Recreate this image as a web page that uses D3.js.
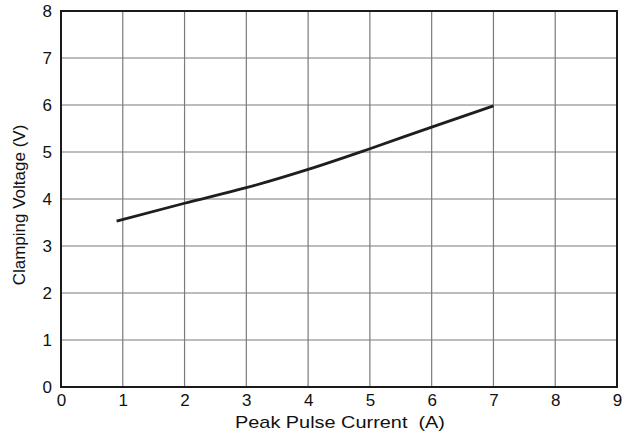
<!DOCTYPE html>
<html>
<head>
<meta charset="utf-8">
<script src="https://cdn.jsdelivr.net/npm/d3@7"></script>
<style>
  body { margin: 0; background: #fff; }
  text { font-family: "Liberation Sans", Arial, sans-serif; fill: #111; }
</style>
</head>
<body>
<div id="chart"></div>
<script>
// curve
const current = [0.9, 2, 3, 4, 5, 6, 7];
const voltage = [3.53, 3.91, 4.24, 4.63, 5.07, 5.53, 5.98];
const xTicks = [0, 1, 2, 3, 4, 5, 6, 7, 8, 9];
const yTicks = [0, 1, 2, 3, 4, 5, 6, 7, 8];

const W = 637, H = 435;
const margin = {top: 11, right: 20, bottom: 48, left: 61};
const width = W - margin.left - margin.right;
const height = H - margin.top - margin.bottom;

const svg = d3.select("#chart").append("svg")
  .attr("width", W)
  .attr("height", H);

const g = svg.append("g")
  .attr("transform", "translate(" + margin.left + "," + margin.top + ")");

const x = d3.scaleLinear().domain([0, 9]).range([0, width]);
const y = d3.scaleLinear().domain([0, 8]).range([height, 0]);

// grid
g.append("g").selectAll("line").data(xTicks.slice(1, -1)).join("line")
  .attr("x1", d => x(d)).attr("x2", d => x(d))
  .attr("y1", 0).attr("y2", height)
  .attr("stroke", "#7a7a7a").attr("stroke-width", 1.2);
g.append("g").selectAll("line").data(yTicks.slice(1, -1)).join("line")
  .attr("x1", 0).attr("x2", width)
  .attr("y1", d => y(d)).attr("y2", d => y(d))
  .attr("stroke", "#7a7a7a").attr("stroke-width", 1.2);

// frame
g.append("rect")
  .attr("x", 0).attr("y", 0)
  .attr("width", width).attr("height", height)
  .attr("fill", "none").attr("stroke", "#1a1a1a").attr("stroke-width", 2);

// axes (labels only)
const xAxis = g.append("g")
  .attr("transform", "translate(0," + height + ")")
  .call(d3.axisBottom(x).tickValues(xTicks).tickSize(0).tickPadding(7).tickFormat(d3.format("d")));
xAxis.select(".domain").remove();
xAxis.selectAll("text").style("font-size", "17px").attr("fill", "#111");

const yAxis = g.append("g")
  .call(d3.axisLeft(y).tickValues(yTicks).tickSize(0).tickPadding(9).tickFormat(d3.format("d")));
yAxis.select(".domain").remove();
yAxis.selectAll("text").style("font-size", "17px").attr("fill", "#111");

// curve
g.append("path")
  .datum(current.map((c, i) => [c, voltage[i]]))
  .attr("fill", "none")
  .attr("stroke", "#1e1e1e")
  .attr("stroke-width", 2.8)
  .attr("d", d3.line()
    .curve(d3.curveMonotoneX)
    .x(d => x(d[0]))
    .y(d => y(d[1])));

// axis titles
svg.append("text")
  .attr("x", 235).attr("y", 428)
  .attr("textLength", 210)
  .attr("lengthAdjust", "spacingAndGlyphs")
  .style("font-size", "17px")
  .attr("xml:space", "preserve")
  .text("Peak Pulse Current  (A)");

svg.append("text")
  .attr("transform", "translate(25,205) rotate(-90)")
  .attr("text-anchor", "middle")
  .style("font-size", "17px")
  .text("Clamping Voltage (V)");
</script>
</body>
</html>
